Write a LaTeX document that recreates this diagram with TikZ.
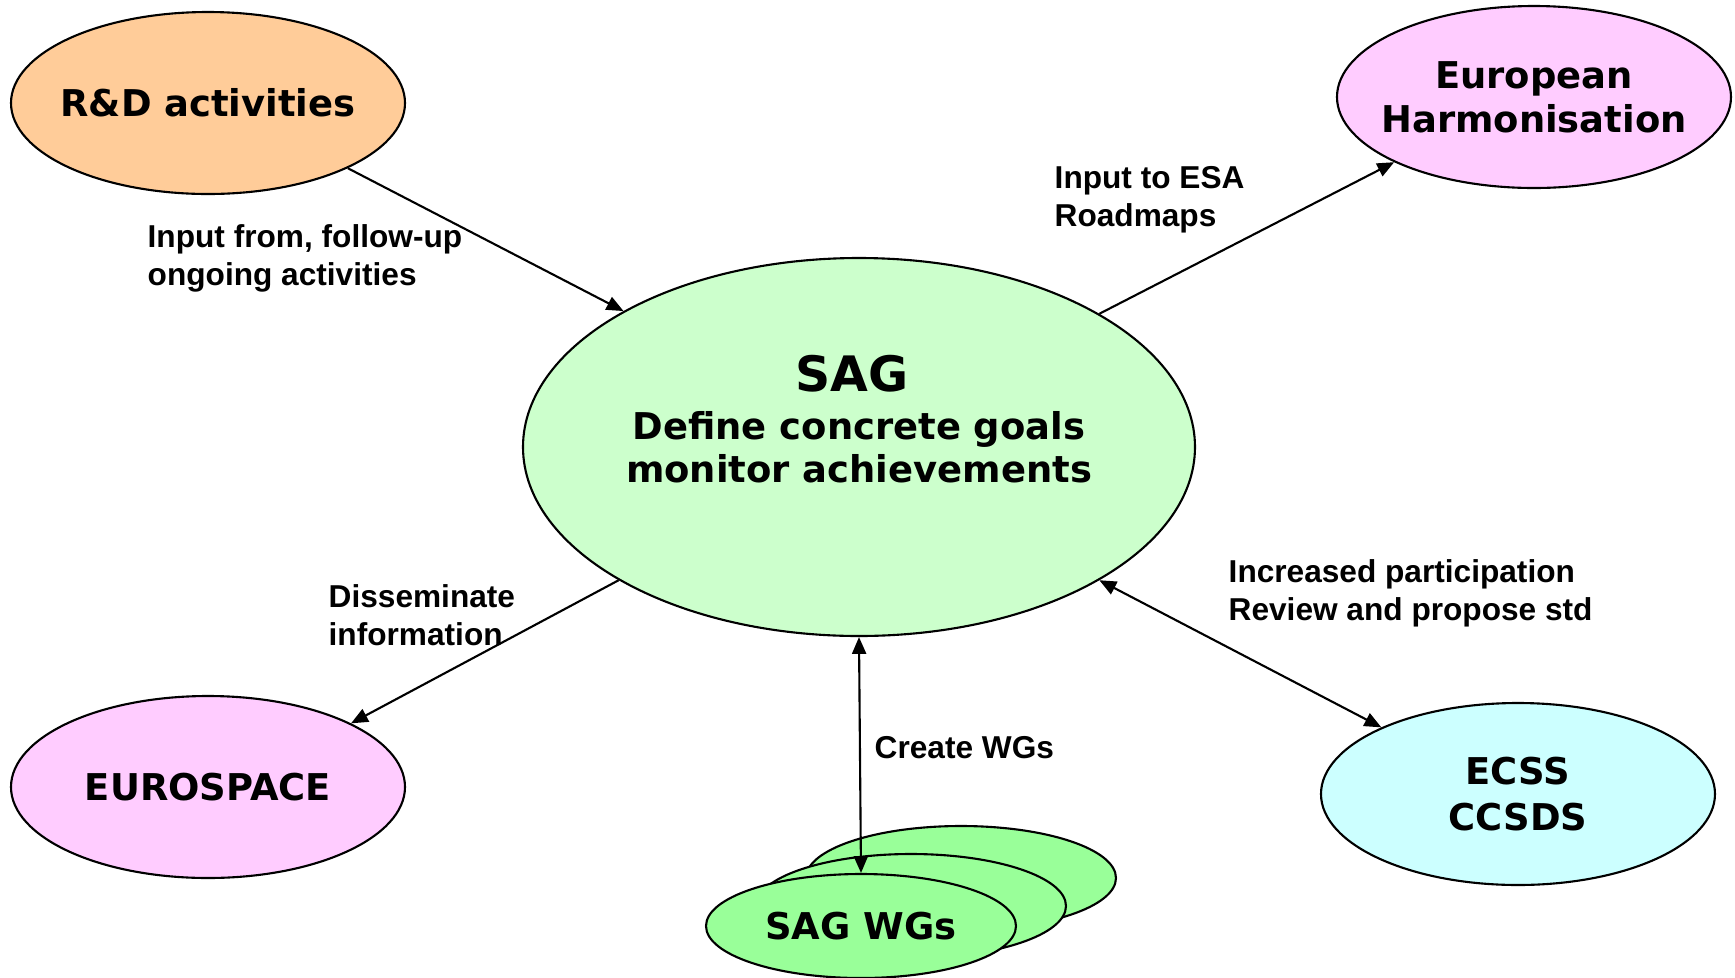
\documentclass[tikz,border=0pt]{standalone}
\usepackage{fontspec}
\usetikzlibrary{shapes.geometric,arrows.meta}
\newfontfamily\verd{DejaVu Sans}
\newfontfamily\arial{Liberation Sans}
\definecolor{rdfill}{HTML}{FFCC99}
\definecolor{pinkfill}{HTML}{FFCCFF}
\definecolor{sagfill}{HTML}{CCFFCC}
\definecolor{stdfill}{HTML}{CCFFFF}
\definecolor{wgfill}{HTML}{99FF99}

\begin{document}
\begin{tikzpicture}[x=0.1mm,y=-0.1mm,
	bubble/.style={ellipse,draw,line width=0.6pt,inner sep=-5mm,minimum width=39.4mm,minimum height=18.2mm,align=center,font=\verd\bfseries\fontsize{10.5}{12.5}\selectfont},
	lbl/.style={anchor=west,align=left,inner sep=0pt,font=\arial\bfseries\fontsize{9}{10.8}\selectfont},
	link/.style={line width=0.6pt,-{Triangle[length=4.8pt,width=4pt]}}]
	\useasboundingbox (0,0) rectangle (1735,977);

	\node[bubble,fill=rdfill] (rd) at (208,103) {R\&D activities};
	\node[bubble,fill=pinkfill] (euro) at (1534,97) {European\\Harmonisation};
	\node[bubble,fill=pinkfill] (espace) at (208,787) {EUROSPACE};
	\node[bubble,fill=stdfill,font=\verd\bfseries\fontsize{10.5}{13}\selectfont] (ecss) at (1518,794) {ECSS\\CCSDS};
	\node[bubble,fill=sagfill,minimum width=67.2mm,minimum height=37.8mm,font=\verd\bfseries\fontsize{10.5}{12.2}\selectfont] (sag) at (859,447) {Define concrete goals\\monitor achievements};
	\node[font=\verd\bfseries\fontsize{13.9}{15}\selectfont] (sagtitle) at (852,374) {SAG};

	\node[bubble,fill=wgfill,minimum width=31mm,minimum height=10.4mm] (wgC) at (961,878) {};
	\node[bubble,fill=wgfill,minimum width=31mm,minimum height=10.4mm] (wgB) at (911,906) {};
	\node[bubble,fill=wgfill,minimum width=31mm,minimum height=10.4mm] (wgA) at (861,926) {SAG WGs};

	\node[lbl] (lrd) at (147,258) {Input from, follow-up\\ongoing activities};
	\node[lbl] (leuro) at (1054,200) {Input to ESA\\Roadmaps};
	\node[lbl] (lespace) at (328,615) {Disseminate\\information};
	\node[lbl] (lwg) at (874,748) {Create WGs};
	\node[lbl] (lecss) at (1228,593) {Increased participation\\Review and propose std};

	\draw[link] (rd.-25.2) -- (sag.150.4);
	\draw[link] (sag.29.6) -- (euro.205.6);
	\draw[link] (sag.209.5) -- (espace.24.3);
	\draw[link,{Triangle[length=4.8pt,width=4pt]}-{Triangle[length=4.8pt,width=4pt]}] (sag.-29.5) -- (ecss.154.8);
	\draw[link,{Triangle[length=4.8pt,width=4pt]}-{Triangle[length=4.8pt,width=4pt]}] (sag.south) -- (wgA.north);
\end{tikzpicture}
\end{document}
